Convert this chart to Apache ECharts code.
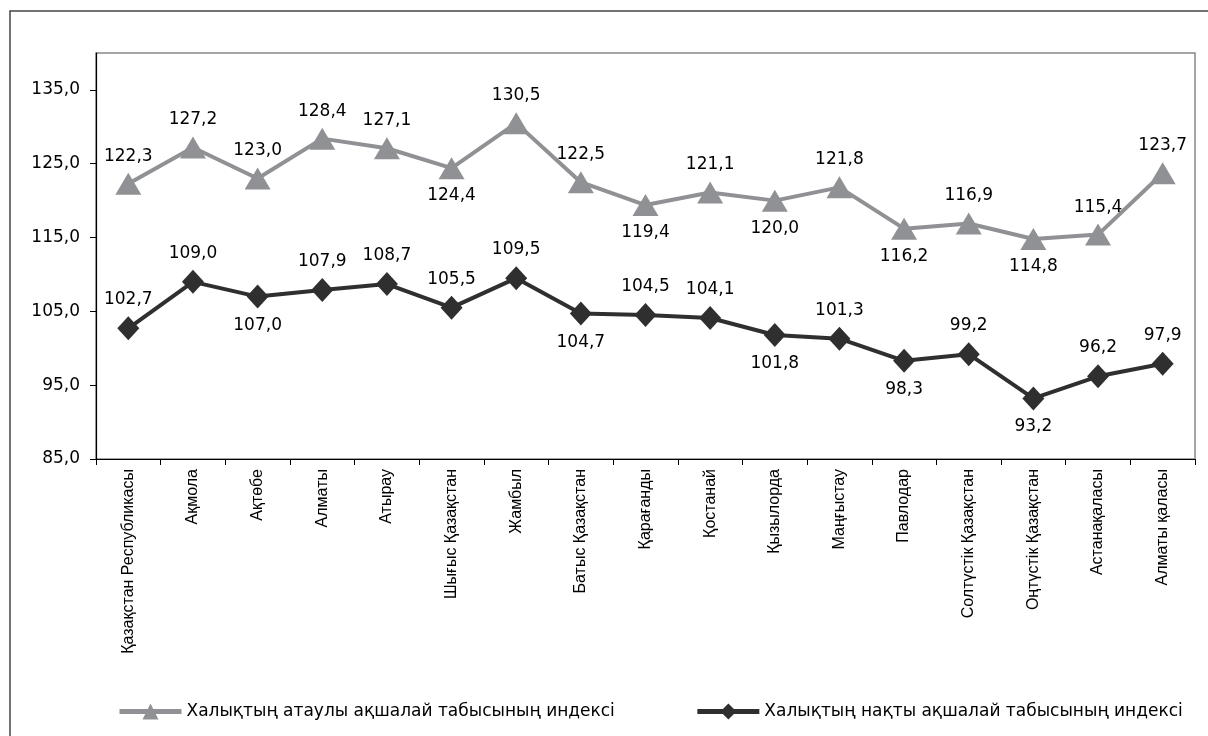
<!DOCTYPE html>
<html>
<head>
<meta charset="utf-8">
<script src="https://cdn.jsdelivr.net/npm/echarts@6/dist/echarts.min.js"></script>
<style>
html,body{margin:0;padding:0;background:#fff;}
#c{width:1208px;height:736px;}
</style>
</head>
<body>
<div id="c"></div>
<script>
const categories = ['Қазақстан Республикасы','Ақмола','Ақтөбе','Алматы','Атырау','Шығыс Қазақстан','Жамбыл','Батыс Қазақстан','Қарағанды','Қостанай','Қызылорда','Маңғыстау','Павлодар','Солтүстік Қазақстан','Оңтүстік Қазақстан','Астанақаласы','Алматы қаласы'];
const nominalName = 'Халықтың атаулы ақшалай табысының индексі';
const realName = 'Халықтың нақты ақшалай табысының индексі';
const nominalValues = [122.3,127.2,123.0,128.4,127.1,124.4,130.5,122.5,119.4,121.1,120.0,121.8,116.2,116.9,114.8,115.4,123.7];
const realValues = [102.7,109.0,107.0,107.9,108.7,105.5,109.5,104.7,104.5,104.1,101.8,101.3,98.3,99.2,93.2,96.2,97.9];
const yTicks = [85,95,105,115,125,135];

// label placement (style): indices whose value label sits below the point
const nominalBelow = [5,8,10,12,14];
const realBelow = [2,7,10,12,14];

function fmt(v){ return v.toFixed(1).replace('.', ','); }
function build(values, below){
  return values.map((v,i)=>({value:v, label:{position: below.indexOf(i)>=0 ? 'bottom' : 'top'}}));
}

const chart = echarts.init(document.getElementById('c'), null, {renderer:'canvas'});
chart.setOption({
  animation:false,
  backgroundColor:'#fff',
  graphic:[{type:'rect', shape:{x:10,y:11,width:1230,height:760}, style:{fill:'none', stroke:'#444', lineWidth:1.5}, silent:true}],
  grid:{left:96, top:53, right:13, bottom:277, show:true, borderColor:'#888', borderWidth:1.5, containLabel:false},
  legend:{
    left:112, top:698, itemGap:80, itemWidth:62, itemHeight:20,
    lineStyle:{width:5},
    textStyle:{fontFamily:'DejaVu Sans', fontSize:17, color:'#000'},
    data:[nominalName, realName]
  },
  xAxis:{
    type:'category', data:categories, boundaryGap:true,
    axisLine:{lineStyle:{color:'#000', width:1.2}},
    axisTick:{show:true, length:6, lineStyle:{color:'#000'}},
    axisLabel:{rotate:90, interval:0, fontFamily:'Liberation Sans', fontSize:16, color:'#000', margin:10}
  },
  yAxis:{
    type:'value', min:yTicks[0], max:140, interval:10,
    axisLine:{show:true, lineStyle:{color:'#000', width:1.2}},
    axisTick:{show:true, length:6, lineStyle:{color:'#000'}},
    splitLine:{show:false},
    axisLabel:{showMaxLabel:false, fontFamily:'DejaVu Sans', fontSize:17, color:'#000', margin:16, formatter:v=>fmt(v)}
  },
  series:[
    {
      name:nominalName, type:'line', data:build(nominalValues, nominalBelow),
      symbol:'triangle', symbolSize:[26,22],
      lineStyle:{color:'#909194', width:4}, itemStyle:{color:'#909194'},
      label:{show:true, distance:8, fontFamily:'DejaVu Sans', fontSize:17, color:'#000', formatter:p=>fmt(p.value)}
    },
    {
      name:realName, type:'line', data:build(realValues, realBelow),
      symbol:'diamond', symbolSize:[22,24],
      lineStyle:{color:'#2f2f2f', width:4}, itemStyle:{color:'#2f2f2f'},
      label:{show:true, distance:8, fontFamily:'DejaVu Sans', fontSize:17, color:'#000', formatter:p=>fmt(p.value)}
    }
  ]
});
</script>
</body>
</html>
